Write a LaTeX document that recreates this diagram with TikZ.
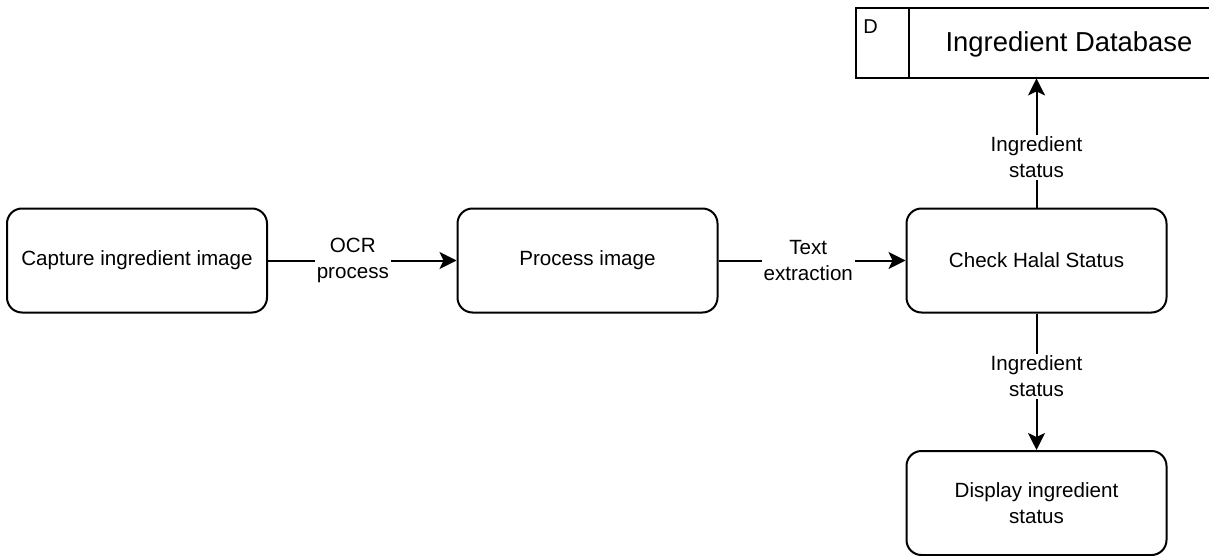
\documentclass[tikz,border=0pt]{standalone}
\usepackage{fontspec}
\setmainfont{Liberation Sans}
\usetikzlibrary{arrows.meta}
\tikzset{
  proc/.style={draw, line width=2pt, rounded corners=15pt, minimum width=260pt,
    minimum height=104pt, align=center, inner sep=0pt, font=\fontsize{20.6}{26}\selectfont},
  flow/.style={line width=2pt, -{Stealth[length=17pt, width=17pt, inset=4pt]}},
  flowlabel/.style={fill=white, align=center, inner sep=2pt, font=\fontsize{20.6}{26}\selectfont}
}
\begin{document}
\begin{tikzpicture}[x=1pt, y=-1pt]
  \useasboundingbox (0,0) rectangle (1209,556);

  % processes
  \node[proc] (cap) at (137,260.5) {Capture ingredient image};
  \node[proc] (prc) at (587.5,260.5) {Process image};
  \node[proc] (chk) at (1036.5,260.5) {Check Halal Status};
  \node[proc] (dsp) at (1036.5,503) {Display ingredient\\status};

  % data store (open on the right)
  \node[minimum width=353pt, minimum height=70pt, inner sep=0pt, anchor=north west] (db) at (856,8) {};
  \coordinate (dv) at (909,8);
  \draw[line width=2pt] (db.north east) -- (db.north west) -- (db.south west) -- (db.south east);
  \draw[line width=2pt] (dv) -- (dv |- db.south);
  \node[font=\fontsize{20}{24}\selectfont] (dbid) at (870.5,26.5) {D};
  \node[font=\fontsize{27.4}{32}\selectfont] (dbname) at (1069,44) {Ingredient Database};

  % data flows
  \draw[flow] (cap) -- node[flowlabel, pos=0.45] {OCR\\process} (prc);
  \draw[flow] (prc) -- node[flowlabel, pos=0.48] {Text\\extraction} (chk);
  \draw[flow] (chk.north) -- node[flowlabel, pos=0.39] {Ingredient\\status} (chk.north |- db.south);
  \draw[flow] (chk) -- node[flowlabel, pos=0.46] {Ingredient\\status} (dsp);
\end{tikzpicture}
\end{document}
